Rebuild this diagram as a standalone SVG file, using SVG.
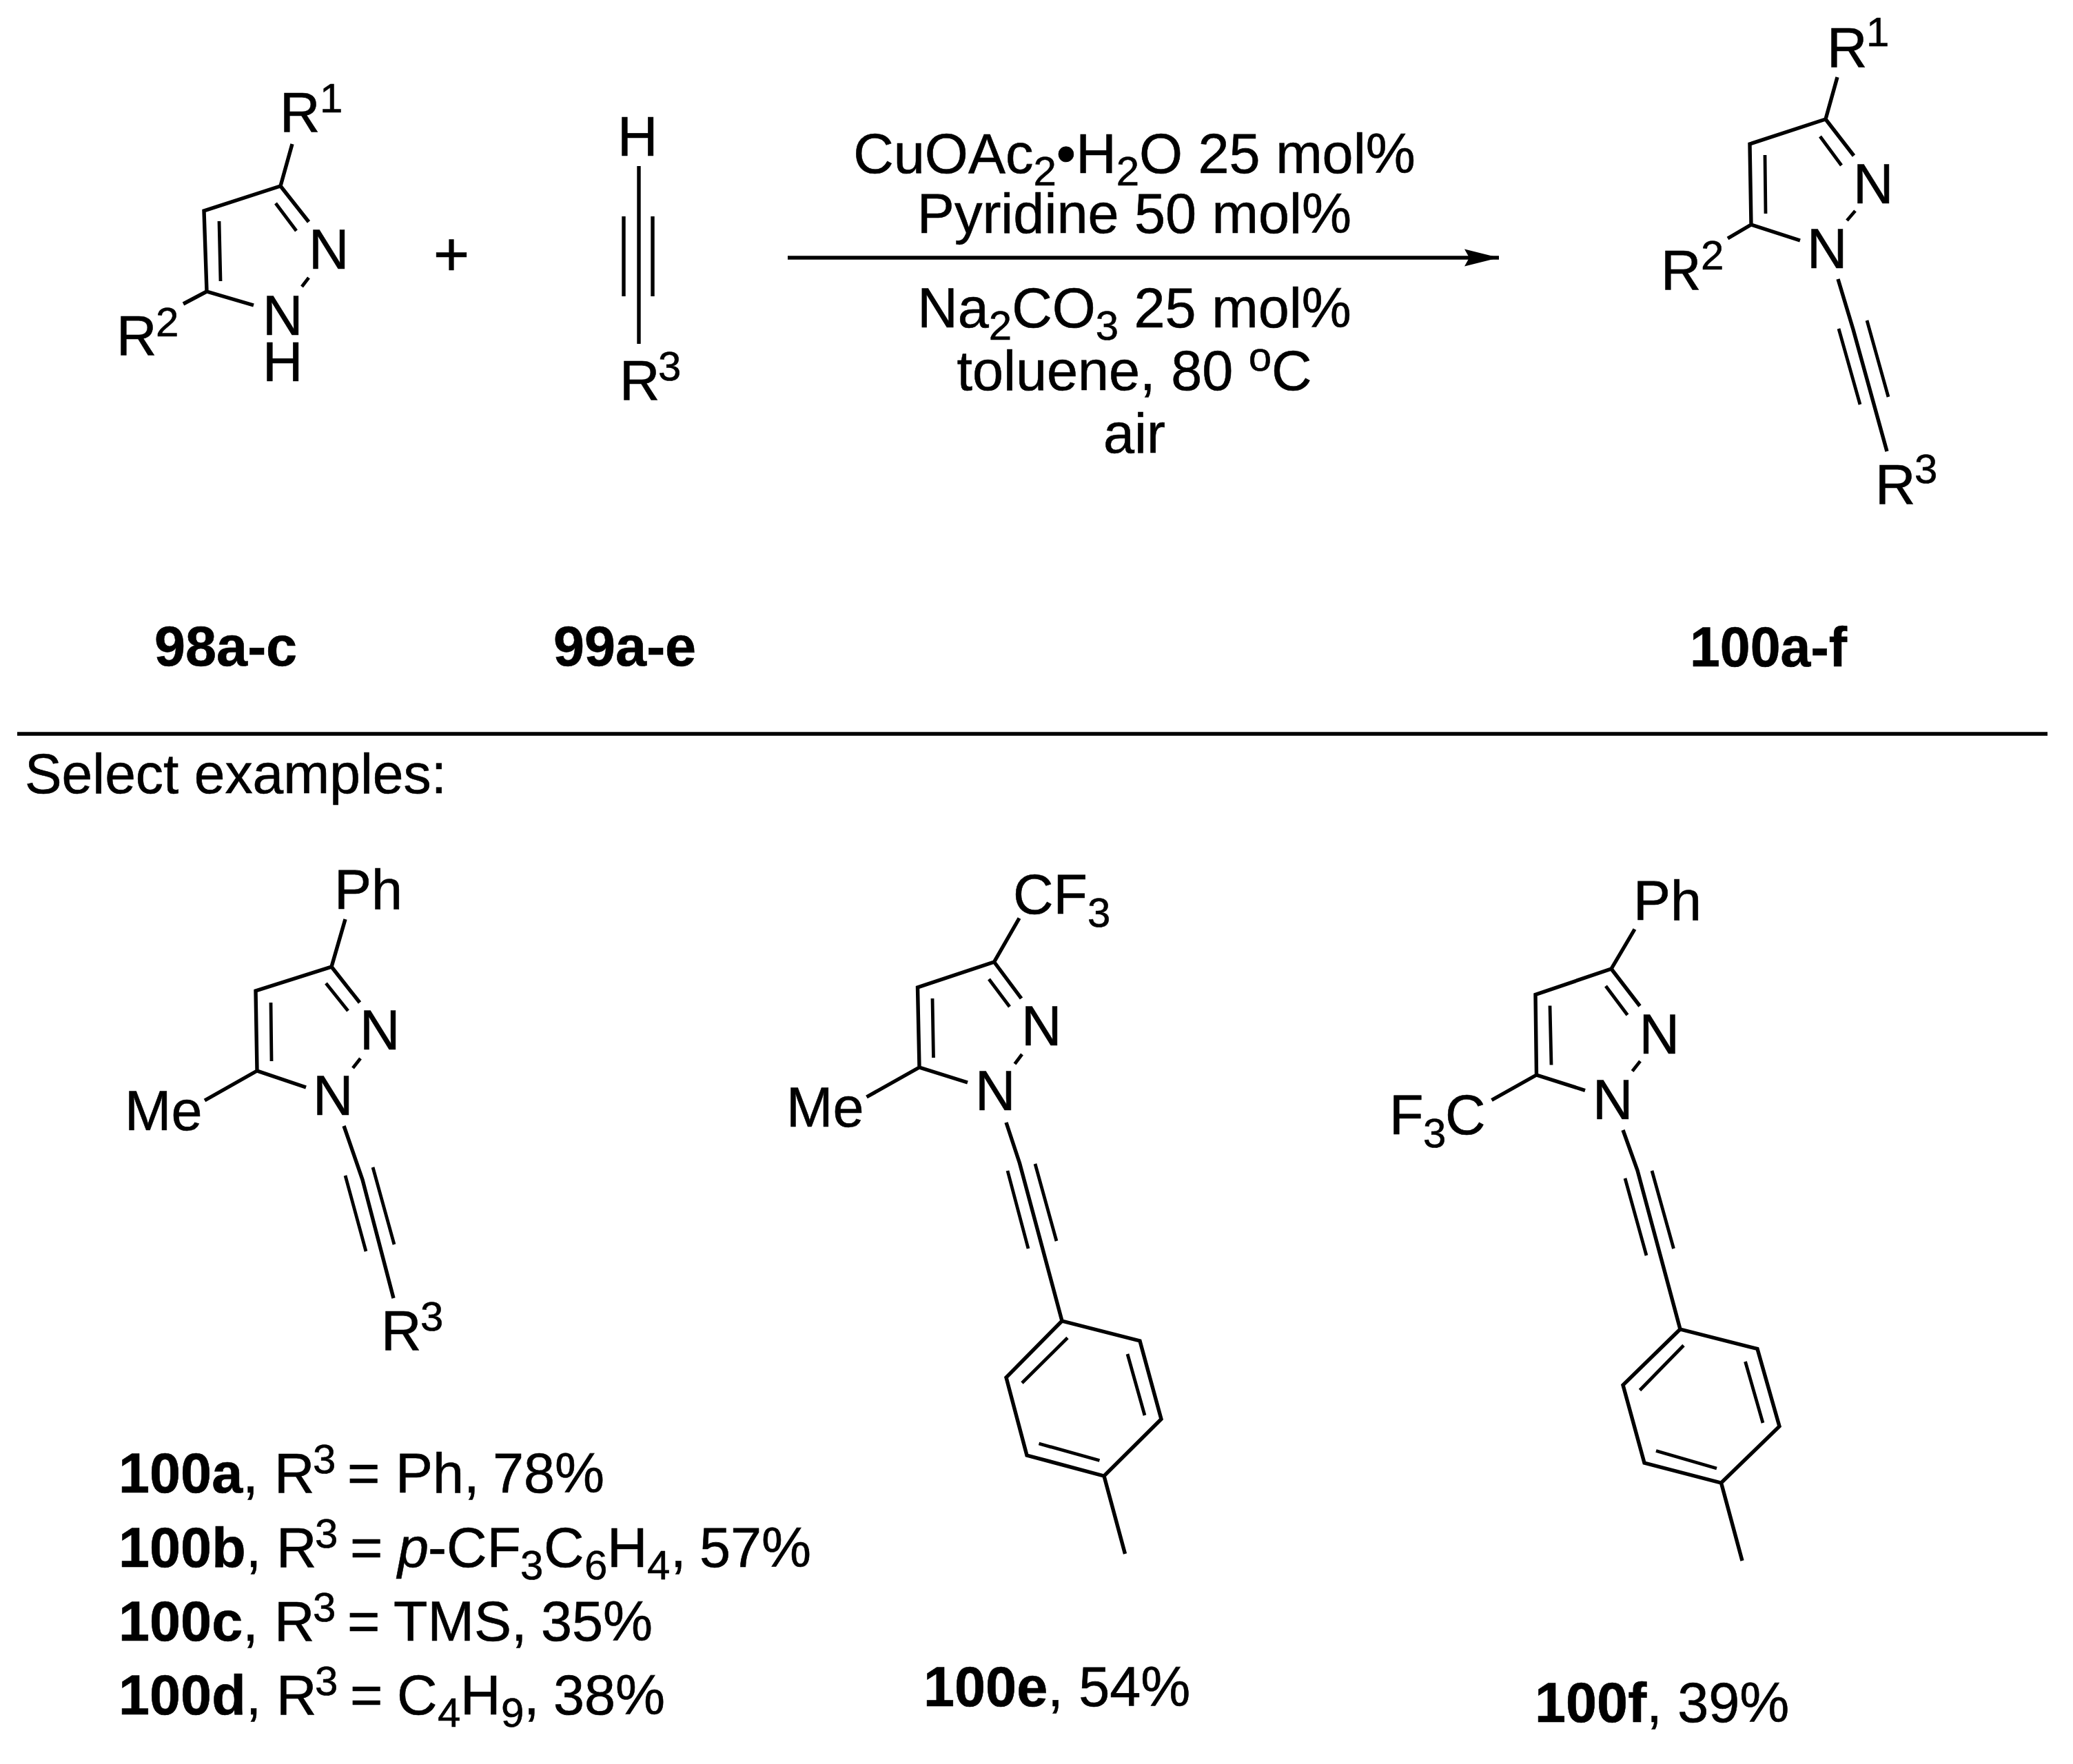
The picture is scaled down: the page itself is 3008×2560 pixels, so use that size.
<svg xmlns="http://www.w3.org/2000/svg" width="3008" height="2560" viewBox="0 0 3008 2560">
<style>
text{font-family:"Liberation Sans",Arial,sans-serif;font-size:81px;fill:#000;stroke:#000;stroke-width:.6}
.b{font-weight:700}
.s{font-size:60px}
.i{font-style:italic}
.m{text-anchor:middle}
.bond{fill:none;stroke:#000;stroke-width:5.4;stroke-linejoin:miter;stroke-linecap:butt}
.thin{stroke-width:4.8}
</style>
<defs>
<marker id="head" markerUnits="userSpaceOnUse" markerWidth="52" markerHeight="28" refX="50" refY="14" orient="auto">
<path d="M0 1.500L50 14L0 26.500L7 14Z" fill="#000"/>
</marker>
</defs>
<rect width="3008" height="2560" fill="#fff"/>

<g id="connectors">
<path d="M1143 374H2175" fill="none" stroke="#000" stroke-width="5.500" marker-end="url(#head)"/>
</g>

<g id="pyrazole-98">
<path class="bond" d="M424 209L407 270L296 306L300 423L368 443M300 423L266 441M407 270L448 322"/>
<path class="bond thin" d="M400 295L430 335M318 321L320 408M448 403L438 416"/>
<text x="406" y="191">R</text><text class="s" x="464" y="163">1</text>
<text x="169" y="515">R</text><text class="s" x="226" y="488">2</text>
<text x="448" y="390">N</text>
<text x="381" y="486">N</text>
<text x="381" y="553">H</text>
<text class="b" x="224" y="966">98a-c</text>
</g>

<g id="plus"><text class="m" x="655" y="400" style="font-size:90px">+</text></g>

<g id="alkyne-99">
<path class="bond" d="M927 241V499M905 314V430M947 314V430"/>
<text x="896" y="226">H</text>
<text x="899" y="580">R</text><text class="s" x="955" y="552">3</text>
<text class="b" x="803" y="966">99a-e</text>
</g>

<g id="conditions">
<text class="m" x="1646" y="251">CuOAc<tspan class="s" dy="18">2</tspan><tspan dy="-18">•H</tspan><tspan class="s" dy="18">2</tspan><tspan dy="-18">O 25 mol%</tspan></text>
<text class="m" x="1646" y="338">Pyridine 50 mol%</text>
<text class="m" x="1646" y="475">Na<tspan class="s" dy="18">2</tspan><tspan dy="-18">CO</tspan><tspan class="s" dy="18">3</tspan><tspan dy="-18"> 25 mol%</tspan></text>
<text class="m" x="1646" y="566">toluene, 80 <tspan class="s" dy="-28">o</tspan><tspan dy="28">C</tspan></text>
<text class="m" x="1646" y="657">air</text>
</g>

<g id="product-100">
<path class="bond" d="M2666 112L2649 173L2539 209L2541 326L2612 349M2541 326L2507 346M2649 173L2690 226M2667 405L2689 478L2738 655"/>
<path class="bond thin" d="M2641 198L2672 240M2561 225L2562 310M2692 306L2680 320M2668 477L2699 587M2709 465L2740 576"/>
<text x="2651" y="97">R</text><text class="s" x="2708" y="67">1</text>
<text x="2689" y="295">N</text>
<text x="2622" y="389">N</text>
<text x="2410" y="420">R</text><text class="s" x="2468" y="391">2</text>
<text x="2721" y="731">R</text><text class="s" x="2778" y="701">3</text>
<text class="b" x="2452" y="967" textLength="228" lengthAdjust="spacingAndGlyphs">100a-f</text>
</g>

<g id="divider">
<path d="M25 1065H2971" stroke="#000" stroke-width="5.500" fill="none"/>
<text x="36" y="1151" textLength="612" lengthAdjust="spacingAndGlyphs">Select examples:</text>
</g>

<g id="example-100a">
<path class="bond" d="M501 1334L481 1403L371 1438L373 1554L444 1578M373 1554L297 1597M481 1403L522 1455M499 1634L526 1712L571 1884"/>
<path class="bond thin" d="M473 1427L505 1467M393 1455L394 1540M523 1536L512 1550M501 1706L531 1816M541 1694L572 1806"/>
<text x="485" y="1319">Ph</text>
<text x="522" y="1523">N</text>
<text x="454" y="1618">N</text>
<text x="181" y="1640">Me</text>
<text x="553" y="1959">R</text><text class="s" x="610" y="1931">3</text>
</g>

<g id="example-100e">
<path class="bond" d="M1479 1332.5L1442.5 1396L1331.5 1433L1334 1549L1404 1571M1334 1549L1257.5 1592M1442.500 1396L1482 1449M1460 1629L1479.5 1688L1541 1917L1654 1946L1685 2059.5L1602 2142L1490 2112L1460 1999L1541 1917M1602 2142L1632.5 2255"/>
<path class="bond thin" d="M1435 1421L1465 1461M1353 1449L1354.5 1535M1483 1530L1472.5 1544M1462 1699L1492 1812M1502 1689L1533 1801M1549 1941.5L1483 2007M1636 1965L1661 2054M1507.5 2095L1595.5 2119.5"/>
<text x="1470" y="1326">CF</text><text class="s" x="1578" y="1345">3</text>
<text x="1482" y="1517">N</text>
<text x="1415" y="1611">N</text>
<text x="1141" y="1635">Me</text>
<text x="1340" y="2476"><tspan class="b">100e</tspan>, 54%</text>
</g>

<g id="example-100f">
<path class="bond" d="M2372 1348.5L2338 1406L2228 1443.5L2229.5 1560L2300 1582.5M2229.5 1560L2164.5 1596.5M2338 1406L2379.5 1460M2355 1640L2376 1698.5L2438 1929L2550 1957.5L2582 2070L2497.5 2152L2386 2123L2355 2010L2438 1929M2497.5 2152L2528 2265"/>
<path class="bond thin" d="M2330 1431L2361.5 1473M2249 1459.5L2251 1545.5M2380 1540L2368.6 1554.4M2358 1710L2389 1822M2397 1699L2428.5 1812M2443 1952.5L2379.5 2017.5M2532.5 1976L2558 2065M2403 2105.5L2491 2131"/>
<text x="2370" y="1335">Ph</text>
<text x="2378.5" y="1529">N</text>
<text x="2311" y="1624">N</text>
<text x="2016" y="1646">F</text><text class="s" x="2065" y="1665">3</text><text x="2097" y="1646">C</text>
<text x="2227" y="2499"><tspan class="b">100f</tspan>, 39%</text>
</g>

<g id="yields">
<text x="172" y="2166"><tspan class="b">100a</tspan>,</text><text x="398" y="2166">R</text><text class="s" x="454" y="2138">3</text><text x="504" y="2166">=</text><text x="574" y="2166">Ph,</text><text x="715" y="2166">78%</text>
<text x="172" y="2274"><tspan class="b">100b</tspan>,</text><text x="401" y="2274">R</text><text class="s" x="457" y="2246">3</text><text x="508" y="2274">=</text><text class="i" x="577" y="2274">p</text><text x="621" y="2274">-CF</text><text class="s" x="755" y="2292">3</text><text x="789" y="2274">C</text><text class="s" x="848" y="2292">6</text><text x="881" y="2274">H</text><text class="s" x="939" y="2292">4</text><text x="973" y="2274">,</text><text x="1015" y="2274">57%</text>
<text x="172" y="2381"><tspan class="b">100c</tspan>,</text><text x="398" y="2381">R</text><text class="s" x="454" y="2353">3</text><text x="504" y="2381">=</text><text x="571" y="2381">TMS,</text><text x="785" y="2381">35%</text>
<text x="172" y="2488"><tspan class="b">100d</tspan>,</text><text x="401" y="2488">R</text><text class="s" x="457" y="2460">3</text><text x="508" y="2488">=</text><text x="576" y="2488">C</text><text class="s" x="635" y="2506">4</text><text x="668" y="2488">H</text><text class="s" x="727" y="2506">9</text><text x="760" y="2488">,</text><text x="803" y="2488">38%</text>
</g>
</svg>
